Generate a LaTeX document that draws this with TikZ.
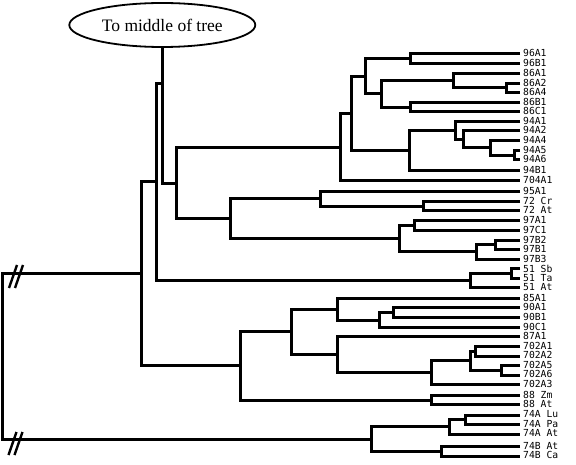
\documentclass[tikz,border=0pt]{standalone}
\usepackage{fontspec}
\setmainfont{Liberation Serif}
\newfontfamily\lblfont{DejaVu Sans Mono}
\usetikzlibrary{shapes.geometric}
\newcommand\jn[4]{%
  \path (#3) -- (#4) coordinate[pos=0.5] (m#1);
  \path (#2,0) coordinate (x#1);
  \coordinate (#1) at (m#1 -| x#1);
  \draw[tree] (#3) -- (#3 -| #1) -- (#4 -| #1) -- (#4);}
\begin{document}
\begin{tikzpicture}[x=1pt,y=-1pt,
  tree/.style={line width=3pt, line join=miter, line cap=butt},
  lbl/.style={anchor=west, inner sep=0pt, font=\lblfont\fontsize{9.7}{10}\selectfont},
  slash/.style={line width=2.4pt},
  cloud/.style={ellipse, draw, line width=1.8pt, minimum width=186pt, minimum height=44pt, inner sep=0pt, font=\fontsize{17.5}{20}\selectfont}]
\useasboundingbox[fill=white] (0,0) rectangle (576,465);
\node[cloud] (top) at (162.3,25) {To middle of tree};
\foreach \i/\y/\t in {0/54/96A1,1/64/96B1,2/73.5/86A1,3/83.3/86A2,4/92.7/86A4,5/102.5/86B1,6/111.7/86C1,
  7/121.5/94A1,8/130.8/94A2,9/140.7/94A4,10/150.2/94A5,11/160/94A6,12/170.7/94B1,13/180.7/704A1,
  14/191.5/95A1,15/201.5/72 Cr,16/211/72 At,17/221/97A1,18/231/97C1,19/240.3/97B2,20/249.3/97B1,
  21/259.2/97B3,22/269/51 Sb,23/278.3/51 Ta,24/287.5/51 At,25/298.7/85A1,26/307.8/90A1,27/317.7/90B1,
  28/327.3/90C1,29/336.2/87A1,30/346.7/702A1,31/356/702A2,32/365.7/702A5,33/375/702A6,34/384.5/702A3,
  35/395.7/88 Zm,36/404.3/88 At,37/415/74A Lu,38/424.3/74A Pa,39/434/74A At,40/446.7/74B At,41/456/74B Ca}
  {\coordinate (L\i) at (520,\y); \node[lbl] (T\i) at (523,\y-0.6) {\t};}
\jn{nNS}{410}{L0}{L1}
\jn{nEBp}{506.7}{L3}{L4}
\jn{nEBa}{453}{L2}{nEBp}
\jn{nEBb}{410}{L5}{L6}
\jn{nEB}{381.7}{nEBa}{nEBb}
\jn{nNE}{365}{nNS}{nEB}
\jn{nNFc}{514.3}{L10}{L11}
\jn{nNFb}{490}{L9}{nNFc}
\jn{nNFa}{463.3}{L8}{nNFb}
\jn{nNFz}{455}{L7}{nNFa}
\jn{nNF}{409}{nNFz}{L12}
\jn{nX}{351.7}{nNE}{nNF}
\jn{nY}{340}{nX}{L13}
\jn{nST}{423.3}{L15}{L16}
\jn{nNFv}{320}{L14}{nST}
\jn{nNSac}{414}{L17}{L18}
\jn{nNSb}{495}{L19}{L20}
\jn{nNSbb}{476}{nNSb}{L21}
\jn{nNSS}{399.3}{nNSac}{nNSbb}
\jn{nZ}{230}{nNFv}{nNSS}
\jn{nC}{176}{nY}{nZ}
\jn{nFOa}{511.7}{L22}{L23}
\jn{nFO}{470}{nFOa}{L24}
\coordinate (jt) at (162.3,83.3);
\jn{nB}{156.7}{jt}{nFO}
\draw[tree] (top.south) |- (nC);
\jn{nNZa}{393.3}{L26}{L27}
\jn{nNZ}{379.3}{nNZa}{L28}
\jn{nEF}{337.3}{L25}{nNZ}
\jn{nSTa}{475.7}{L30}{L31}
\jn{nSTb}{501.7}{L32}{L33}
\jn{nSTc}{470}{nSTa}{nSTb}
\jn{nSTT}{431.7}{nSTc}{L34}
\jn{nES}{337.3}{L29}{nSTT}
\jn{nE}{291.7}{nEF}{nES}
\jn{nEE}{431.7}{L35}{L36}
\jn{nD}{240}{nE}{nEE}
\jn{nA}{141.7}{nB}{nD}
\jn{nSFa}{465}{L37}{L38}
\jn{nSFb}{449}{nSFa}{L39}
\jn{nSFc}{441}{L40}{L41}
\jn{nSF}{371.7}{nSFb}{nSFc}
\jn{root}{2.5}{nA}{nSF}
\draw[slash] (9,288) -- (17,265) (15,288) -- (23,265);
\draw[slash] (8.5,455) -- (16.5,432) (14.5,455) -- (22.5,432);
\end{tikzpicture}
\end{document}
